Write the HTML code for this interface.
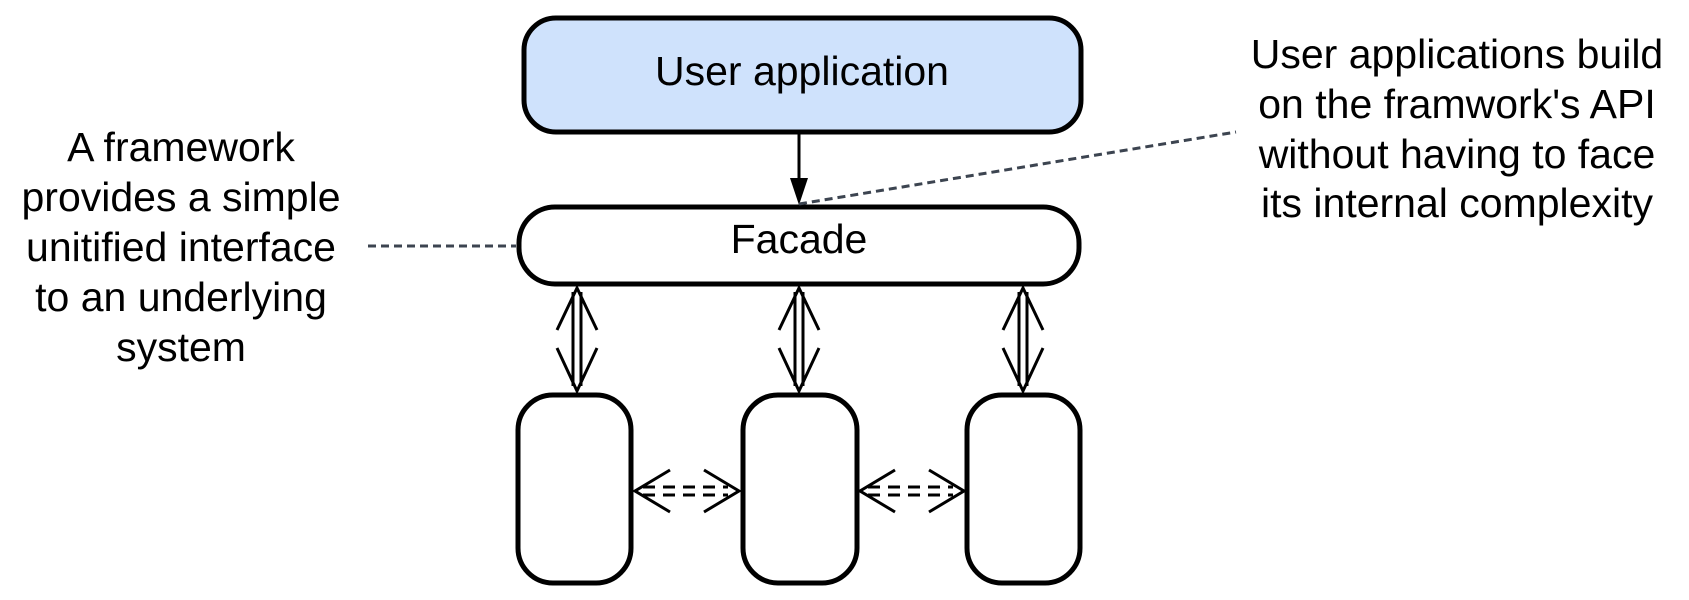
<!DOCTYPE html>
<html><head><meta charset="utf-8"><style>
html,body{margin:0;padding:0;background:#fff;width:1689px;height:600px;overflow:hidden}
svg{display:block}
text{font-family:"Liberation Sans",sans-serif;font-size:41px;fill:#000}
</style></head><body>
<svg width="1689" height="600" viewBox="0 0 1689 600" xmlns="http://www.w3.org/2000/svg">
<rect x="524" y="18" width="557" height="114" rx="32" fill="#cfe2fc" stroke="#000" stroke-width="5"/>
<text x="802" y="85" text-anchor="middle">User application</text>
<line x1="799" y1="132" x2="799" y2="180" stroke="#000" stroke-width="3"/>
<polygon points="790,178 808,178 799,205" fill="#000"/>
<rect x="519" y="207" width="560" height="77" rx="36" fill="#fff" stroke="#000" stroke-width="5"/>
<text x="799" y="253" text-anchor="middle">Facade</text>
<line x1="368" y1="246" x2="516" y2="246" stroke="#3c4450" stroke-width="3" stroke-dasharray="8,5"/>
<line x1="799" y1="204" x2="1236" y2="132" stroke="#3c4450" stroke-width="3" stroke-dasharray="8,5"/>
<g text-anchor="middle">
<text x="181" y="161">A framework</text>
<text x="181" y="211">provides a simple</text>
<text x="181" y="261">unitified interface</text>
<text x="181" y="311">to an underlying</text>
<text x="181" y="361">system</text>
<g style="font-size:39.5px">
<text x="1457" y="68">User applications build</text>
<text x="1457" y="118">on the framwork's API</text>
<text x="1457" y="168">without having to face</text>
<text x="1457" y="217">its internal complexity</text>
</g>
</g>
<g fill="#fff" stroke="#000" stroke-width="5">
<rect x="518" y="395" width="113" height="188" rx="35"/>
<rect x="743" y="395" width="114" height="188" rx="35"/>
<rect x="967" y="395" width="113" height="188" rx="35"/>
</g>
<g stroke="#000" stroke-width="3" fill="none">
<g id="va">
<line x1="573" y1="292" x2="573" y2="386"/>
<line x1="581" y1="292" x2="581" y2="386"/>
<polyline points="557,330 577,288 597,330"/>
<polyline points="557,348 577,391 597,348"/>
</g>
<use href="#va" x="222"/>
<use href="#va" x="446"/>
<g id="ha">
<line x1="643" y1="487" x2="728" y2="487" stroke-dasharray="12,8"/>
<line x1="643" y1="495" x2="728" y2="495" stroke-dasharray="12,8"/>
<polyline points="670,470 635,491 670,512"/>
<polyline points="704,470 739,491 704,512"/>
</g>
<use href="#ha" x="225"/>
</g>
</svg>
</body></html>
